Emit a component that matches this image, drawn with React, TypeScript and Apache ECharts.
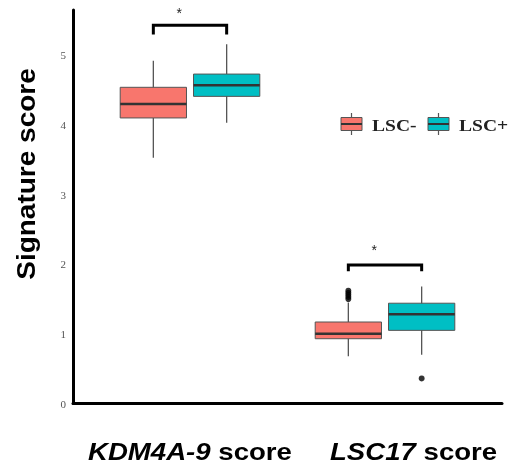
import React, { useEffect, useRef } from "react";
import * as echarts from "echarts";

// ---- data ----
const groups = ["KDM4A-9", "LSC17"];
const seriesNames = ["LSC-", "LSC+"];
// [lower whisker, Q1, median, Q3, upper whisker]
const lscNeg = [
  [3.53, 4.1, 4.3, 4.54, 4.92],
  [0.68, 0.93, 1.0, 1.17, 1.45],
];
const lscPos = [
  [4.03, 4.41, 4.57, 4.73, 5.16],
  [0.7, 1.05, 1.28, 1.44, 1.68],
];
const lscNegOutliers = [[], [1.5, 1.53, 1.56, 1.59, 1.62]];
const lscPosOutliers = [[], [0.36]];
const bracketTop = [5.43, 1.99];
const bracketEnd = [5.3, 1.9];
const starY = [5.61, 2.2];
const yTickMax = 5.65;

const colors = ["#F8766D", "#00BFC4"];

export default function App() {
  const ref = useRef<HTMLDivElement>(null);
  useEffect(() => {
    const chart = echarts.init(ref.current!, null, { renderer: "svg" });
    const dodge = 0.188;
    const boxW = 0.34;

    const boxData: number[][] = [];
    [lscNeg, lscPos].forEach((stats, s) =>
      stats.forEach((st, g) => boxData.push([g + 1 + (s ? dodge : -dodge), ...st, s]))
    );
    const outData: number[][] = [];
    [lscNegOutliers, lscPosOutliers].forEach((outs, s) =>
      outs.forEach((vals, g) => vals.forEach((v) => outData.push([g + 1 + (s ? dodge : -dodge), v])))
    );
    const bracketData = groups.map((_, g) => [g + 1 - dodge, g + 1 + dodge, bracketTop[g], bracketEnd[g]]);
    const starData = groups.map((_, g) => [g + 1 - 0.055, starY[g]]);

    const legendX = [341, 428];
    const legendGraphics: any[] = [];
    seriesNames.forEach((name, i) => {
      const x0 = legendX[i];
      legendGraphics.push(
        { type: "line", shape: { x1: x0 + 10.5, y1: 113, x2: x0 + 10.5, y2: 135 }, style: { stroke: "#555", lineWidth: 1.2 } },
        { type: "rect", shape: { x: x0, y: 117.5, width: 21, height: 13 }, style: { fill: colors[i], stroke: "#555", lineWidth: 1 } },
        { type: "line", shape: { x1: x0, y1: 124, x2: x0 + 21, y2: 124 }, style: { stroke: "#333", lineWidth: 2 } },
        {
          type: "text",
          x: x0 + 31,
          y: 125,
          scaleX: 1.15,
          style: { text: name, fontFamily: "Liberation Serif", fontWeight: "bold", fontSize: 17, fill: "#222", align: "left", verticalAlign: "middle" },
        }
      );
    });

    const xLabelStyle = (g: number) => ({
      text: `{i|${groups[g]}}{b| score}`,
      align: "left",
      verticalAlign: "middle",
      fill: "#000",
      rich: {
        i: { fontFamily: "Liberation Sans", fontStyle: "italic", fontWeight: "bold", fontSize: 23, fill: "#000" },
        b: { fontFamily: "Liberation Sans", fontWeight: "bold", fontSize: 23, fill: "#000" },
      },
    });

    chart.setOption({
      animation: false,
      grid: { left: 73, right: 8, top: 10, bottom: 62.5 },
      xAxis: {
        type: "value",
        min: 0.4,
        max: 2.6,
        axisLine: { show: true, onZero: false, lineStyle: { color: "#000", width: 3 } },
        axisTick: { show: false },
        axisLabel: { show: false },
        splitLine: { show: false },
      },
      yAxis: {
        type: "value",
        min: 0,
        max: yTickMax,
        interval: 1,
        axisLine: { show: true, lineStyle: { color: "#000", width: 3 } },
        axisTick: { show: false },
        axisLabel: { showMaxLabel: false, margin: 7, fontFamily: "Liberation Serif", fontSize: 11, color: "#555" },
        splitLine: { show: false },
      },
      graphic: [
        ...legendGraphics,
        { type: "text", x: 88, y: 452, scaleX: 1.2, style: xLabelStyle(0) },
        { type: "text", x: 330, y: 452, scaleX: 1.2, style: xLabelStyle(1) },
        {
          type: "text",
          x: 27,
          y: 174,
          rotation: Math.PI / 2,
          scaleX: 1.12,
          style: { text: "Signature score", fontFamily: "Liberation Sans", fontWeight: "bold", fontSize: 25, fill: "#000", align: "center", verticalAlign: "middle" },
        },
      ],
      series: [
        {
          type: "custom",
          data: boxData,
          encode: { x: 0, y: [1, 2, 3, 4, 5] },
          renderItem: (params: any, api: any) => {
            const x = api.value(0);
            const ys = [1, 2, 3, 4, 5].map((i) => api.coord([x, api.value(i)])[1]);
            const [lo, q1, med, q3, hi] = ys;
            const cx = api.coord([x, 0])[0];
            const hw = api.size([boxW, 0])[0] / 2;
            const s = api.value(6);
            return {
              type: "group",
              children: [
                { type: "line", shape: { x1: cx, y1: hi, x2: cx, y2: lo }, style: { stroke: "#555", lineWidth: 1.3 } },
                { type: "rect", shape: { x: cx - hw, y: q3, width: 2 * hw, height: q1 - q3 }, style: { fill: colors[s], stroke: "#555", lineWidth: 1 } },
                { type: "line", shape: { x1: cx - hw, y1: med, x2: cx + hw, y2: med }, style: { stroke: "#333", lineWidth: 2.5 } },
              ],
            };
          },
          z: 2,
        },
        {
          type: "scatter",
          data: outData,
          symbol: "circle",
          symbolSize: 6,
          itemStyle: { color: "#000" },
          z: 3,
        },
        {
          type: "custom",
          data: bracketData,
          renderItem: (params: any, api: any) => {
            const a = api.coord([api.value(0), api.value(2)]);
            const b = api.coord([api.value(1), api.value(2)]);
            const e = api.coord([api.value(0), api.value(3)]);
            return {
              type: "polyline",
              shape: { points: [[a[0], e[1]], a, b, [b[0], e[1]]] },
              style: { stroke: "#000", lineWidth: 3, fill: "none" },
            };
          },
        },
        {
          type: "custom",
          data: starData,
          renderItem: (params: any, api: any) => {
            const p = api.coord([api.value(0), api.value(1)]);
            return {
              type: "text",
              x: p[0],
              y: p[1],
              style: { text: "*", fontFamily: "Liberation Sans", fontSize: 14, fill: "#222", align: "center", verticalAlign: "middle" },
            };
          },
        },
      ],
    });
    return () => chart.dispose();
  }, []);
  return <div ref={ref} style={{ position: "fixed", left: 0, top: 0, width: 510, height: 466 }} />;
}
